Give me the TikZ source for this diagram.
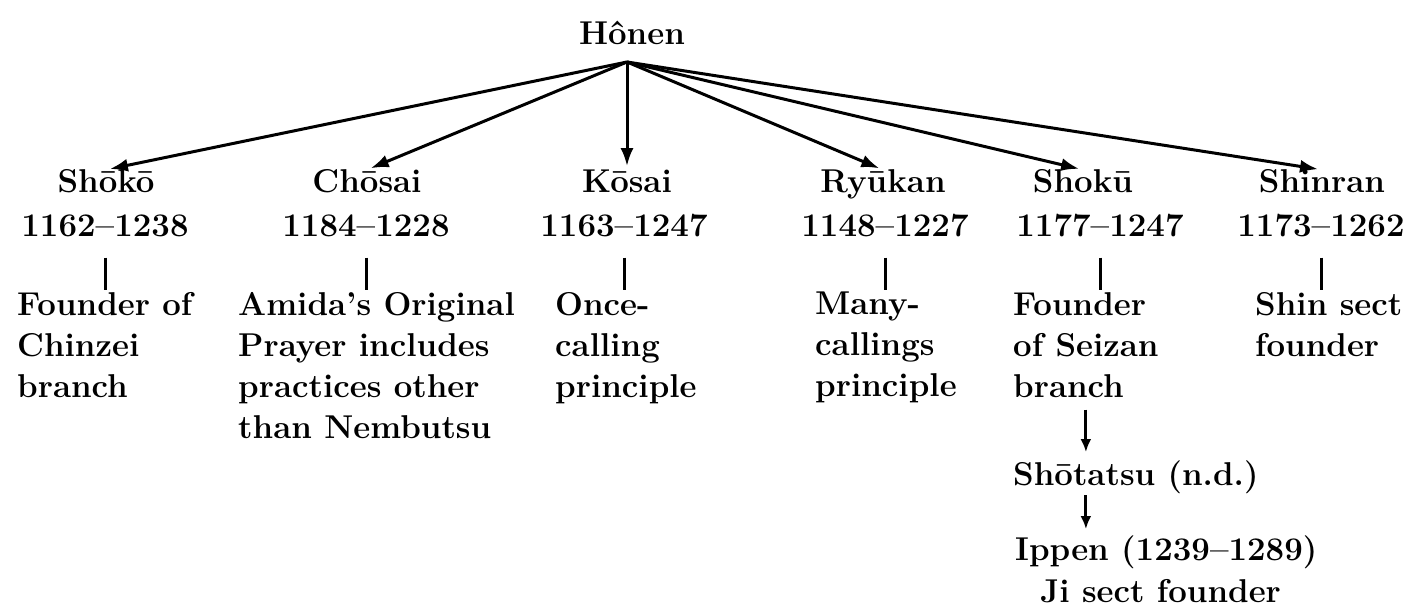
\documentclass[tikz,border=0pt]{standalone}
\usepackage{fontspec}
\usepackage{tikz}
\usetikzlibrary{positioning,arrows.meta,calc}

\begin{document}
\begin{tikzpicture}[x=1pt,y=-1pt,
  lbl/.style={inner sep=0pt,anchor=base,font=\fontsize{33}{41}\selectfont\bfseries},
  note/.style={inner sep=0pt,anchor=north west,align=left,font=\fontsize{33}{41}\selectfont\bfseries},
  arr/.style={-{Latex[length=18pt,width=13pt]},line width=3pt,shorten >=4pt},
  bar/.style={line width=3pt,shorten <=20pt,shorten >=2pt},
  down/.style={-{Latex[length=13pt,width=11pt]},line width=2.8pt}]
\useasboundingbox (0,0) rectangle (1411,612);
\node[lbl] (honen) at (632,45) {Hônen};
\coordinate (apex) at (627,62);
% disciples, one column each
\foreach \i/\xn/\xd/\nm/\yr in {1/106/105/Shōkō/1162--1238,
    2/367/366/Chōsai/1184--1228, 3/627/624/Kōsai/1163--1247,
    4/883/885/Ryūkan/1148--1227, 5/1083/1100/Shokū/1177--1247,
    6/1322/1321/Shinran/1173--1262} {
  \node[lbl] (n\i) at (\xn,193) {\nm};
  \node[lbl] (d\i) at (\xd,237) {\yr};
  \draw[arr] (apex) -- (n\i.north);
}
\node[note] (t1) at (17,292) {Founder of\\Chinzei\\branch};
\node[note] (t2) at (238,292) {Amida's Original\\Prayer includes\\practices other\\than Nembutsu};
\node[note] (t3) at (555,292) {Once-\\calling\\principle};
\node[note] (t4) at (815,292) {Many-\\callings\\principle};
\node[note] (t5) at (1013,292) {Founder\\of Seizan\\branch};
\node[note] (t6) at (1255,292) {Shin sect\\founder};
\foreach \i in {1,...,6}
  \draw[bar] (d\i.south) -- (d\i.south |- t\i.north);
% Seizan line
\node[lbl,anchor=base west] (shotatsu) at (1013,485) {Shōtatsu (n.d.)};
\node[lbl,anchor=base west] (ippen) at (1015,560) {Ippen (1239--1289)};
\node[lbl,anchor=base west] (ji) at (1040,602) {Ji sect founder};
\draw[down,shorten <=12pt,shorten >=8pt] (t5.south) -- (t5.south |- shotatsu.north);
\draw[down,shorten <=2pt,shorten >=6pt] (shotatsu.south -| t5.south) -- (ippen.north -| t5.south);
\end{tikzpicture}
\end{document}
